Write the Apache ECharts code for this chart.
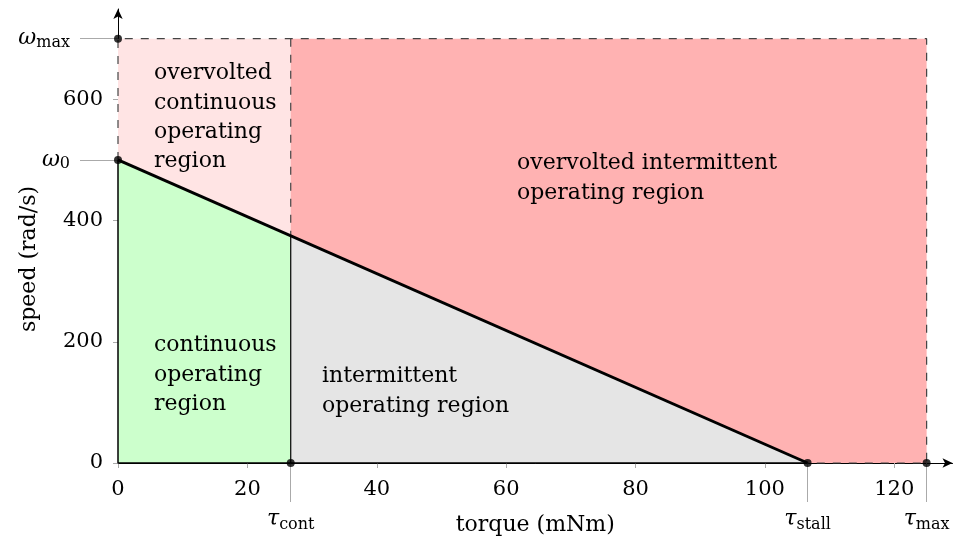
<!DOCTYPE html>
<html><head><meta charset="utf-8">
<script src="https://cdn.jsdelivr.net/npm/echarts@6/dist/echarts.min.js"></script>
<style>html,body{margin:0;padding:0;background:#fff}#c{width:955px;height:542px}</style>
</head><body><div id="c"></div>
<script>
// ---- data ----
const torqueTicks = [0, 20, 40, 60, 80, 100, 120];
const speedTicks = [0, 200, 400, 600];
const tauCont = 26.7, tauStall = 106.6, tauMax = 125;
const omega0 = 500, omegaMax = 700, speedAtCont = 375;
const torqueAxisMax = 129, speedAxisMax = 749;
const torqueMarks = [tauCont, tauStall, tauMax];
const torqueMarkSubs = ['cont', 'stall', 'max'];
const speedMarks = [omega0, omegaMax];
const speedMarkSubs = ['0', 'max'];
const continuousRegion = [[0, 0], [0, omega0], [tauCont, speedAtCont], [tauCont, 0]];
const intermittentRegion = [[tauCont, 0], [tauCont, speedAtCont], [tauStall, 0]];
const overContRegion = [[0, omega0], [0, omegaMax], [tauCont, omegaMax], [tauCont, speedAtCont]];
const overIntRegion = [[tauCont, speedAtCont], [tauCont, omegaMax], [tauMax, omegaMax], [tauMax, 0], [tauStall, 0]];
const solidEdge = [[0, omega0], [0, 0], [tauStall, 0]];
const contDivider = [[tauCont, 0], [tauCont, speedAtCont]];
const dashedEdge = [[0, omega0], [0, omegaMax], [tauMax, omegaMax], [tauMax, 0], [tauStall, 0]];
const overDivider = [[tauCont, omegaMax], [tauCont, speedAtCont]];
const torqueSpeedLine = [[0, omega0], [tauStall, 0]];
const keyPoints = [[0, omegaMax], [0, omega0], [tauCont, 0], [tauStall, 0], [tauMax, 0]];

// ---- styling ----
const FONT = '"DejaVu Serif", serif';
const TICK_GRAY = '#aaa';

function fillSeries(points, color) {
  return {
    type: 'custom', coordinateSystem: 'cartesian2d', silent: true, clip: false, z: 1,
    data: points, encode: { x: 0, y: 1 },
    renderItem: function (params, api) {
      if (params.dataIndex !== 0) return null;
      return { type: 'polygon', shape: { points: points.map(p => api.coord(p)) },
               style: { fill: color, stroke: null } };
    }
  };
}
function edgeSeries(points, color, width, type, z) {
  return { type: 'line', data: points, symbol: 'none', clip: false, silent: true, z: z,
           lineStyle: { color: color, width: width, type: type }, animation: false };
}
const subRich = {
  g: { fontFamily: FONT, fontStyle: 'italic', fontSize: 22, color: '#000' },
  s: { fontFamily: FONT, fontSize: 16, color: '#000', padding: [8, 0, 0, 0] },
  t: { fontFamily: FONT, fontSize: 16, color: '#000', padding: [12, 0, 0, 0] }
};

const chart = echarts.init(document.getElementById('c'), null, { renderer: 'canvas' });
chart.setOption({
  animation: false,
  backgroundColor: '#fff',
  grid: { left: 118, right: 2.5, top: 9, bottom: 79, containLabel: false, outerBoundsMode: 'none' },
  xAxis: [
    { type: 'value', min: 0, max: torqueAxisMax, position: 'bottom',
      axisLine: { show: true, onZero: false, symbol: ['none', 'arrow'], symbolSize: [7, 10],
                  lineStyle: { color: '#000', width: 1 } },
      axisTick: { show: true, customValues: torqueTicks, length: 5, lineStyle: { color: TICK_GRAY } },
      axisLabel: { customValues: torqueTicks, margin: 16, fontFamily: FONT, fontSize: 21, color: '#000' },
      splitLine: { show: false },
      name: 'torque (mNm)', nameLocation: 'middle', nameGap: 51,
      nameTextStyle: { fontFamily: FONT, fontSize: 22, color: '#000' } },
    { type: 'value', min: 0, max: torqueAxisMax, position: 'bottom', offset: 0,
      axisLine: { show: false },
      axisTick: { show: true, customValues: torqueMarks, length: 39, lineStyle: { color: TICK_GRAY } },
      axisLabel: { customValues: torqueMarks, margin: 42,
                   formatter: v => '{g|τ}{t|' + torqueMarkSubs[torqueMarks.indexOf(v)] + '}', rich: subRich },
      splitLine: { show: false } }
  ],
  yAxis: [
    { type: 'value', min: 0, max: speedAxisMax, position: 'left',
      axisLine: { show: true, onZero: false, symbol: ['none', 'arrow'], symbolSize: [7, 10],
                  lineStyle: { color: '#000', width: 1 } },
      axisTick: { show: true, customValues: speedTicks, length: 5, lineStyle: { color: TICK_GRAY } },
      axisLabel: { customValues: speedTicks, margin: 15, fontFamily: FONT, fontSize: 21, color: '#000' },
      splitLine: { show: false },
      name: 'speed (rad/s)', nameLocation: 'middle', nameGap: 78,
      nameTextStyle: { fontFamily: FONT, fontSize: 22, color: '#000', padding: [0, 46, 0, 0] } },
    { type: 'value', min: 0, max: speedAxisMax, position: 'left', offset: 0,
      axisLine: { show: false },
      axisTick: { show: true, customValues: speedMarks, length: 38, lineStyle: { color: TICK_GRAY } },
      axisLabel: { customValues: speedMarks, margin: 48,
                   formatter: v => '{g|ω}{s|' + speedMarkSubs[speedMarks.indexOf(v)] + '}', rich: subRich },
      splitLine: { show: false } }
  ],
  series: [
    fillSeries(continuousRegion, '#ccffcc'),
    fillSeries(intermittentRegion, '#e5e5e5'),
    fillSeries(overContRegion, '#ffe4e4'),
    fillSeries(overIntRegion, '#ffb2b2'),
    edgeSeries(solidEdge, '#000', 1.5, 'solid', 3),
    edgeSeries(contDivider, '#000', 1.2, 'solid', 3),
    edgeSeries(dashedEdge, '#444', 1.2, [8, 8], 3),
    edgeSeries(overDivider, '#444', 1.2, [8, 8], 3),
    edgeSeries(torqueSpeedLine, '#000', 3, 'solid', 4),
    { type: 'scatter', data: keyPoints, symbol: 'circle', symbolSize: 8, clip: false, silent: true, z: 5,
      itemStyle: { color: '#000' } }
  ],
  graphic: [
    { type: 'text', x: 154, y: 59, z: 100, silent: true,
      style: { text: 'overvolted\ncontinuous\noperating\nregion', font: '22px ' + FONT, lineHeight: 29.3, fill: '#000' } },
    { type: 'text', x: 154, y: 331, z: 100, silent: true,
      style: { text: 'continuous\noperating\nregion', font: '22px ' + FONT, lineHeight: 29.3, fill: '#000' } },
    { type: 'text', x: 322, y: 362, z: 100, silent: true,
      style: { text: 'intermittent\noperating region', font: '22px ' + FONT, lineHeight: 29.3, fill: '#000' } },
    { type: 'text', x: 517, y: 149, z: 100, silent: true,
      style: { text: 'overvolted intermittent\noperating region', font: '22px ' + FONT, lineHeight: 29.3, fill: '#000' } }
  ]
});
</script></body></html>
